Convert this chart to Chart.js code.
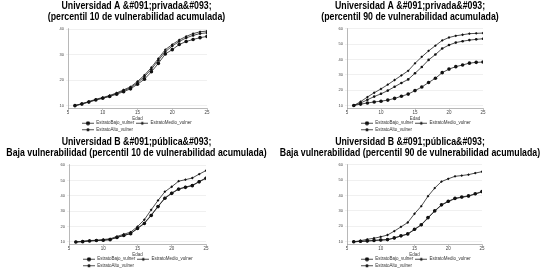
<!DOCTYPE html>
<html>
<head>
<meta charset="utf-8">
<script src="https://cdn.jsdelivr.net/npm/chart.js"></script>
<style>
body { margin: 0; background: #fff; }
#grid { display: grid; grid-template-columns: 273px 274px; grid-template-rows: 136px 136px; width: 547px; height: 272px; }
canvas { display: block; }
</style>
</head>
<body>
<div id="grid">
	<canvas id="c1" width="273" height="136"></canvas>
	<canvas id="c2" width="274" height="136"></canvas>
	<canvas id="c3" width="273" height="136"></canvas>
	<canvas id="c4" width="274" height="136"></canvas>
</div>
<script>
var edad = [6, 7, 8, 9, 10, 11, 12, 13, 14, 15, 16, 17, 18, 19, 20, 21, 22, 23, 24, 25];
var nombres = ["EstratoBajo_vulner", "EstratoMedio_vulner", "EstratoAlto_vulner"];
var xTicks = [5, 10, 15, 20, 25];

// Universidad A, percentil 10
var titulo1 = ["Universidad A &#091;privada&#093;", "(percentil 10 de vulnerabilidad acumulada)"];
var yTicks1 = [10, 20, 30, 40];
var bajo1  = [10, 10.6, 11.4, 12.2, 12.9, 13.6, 14.5, 15.5, 16.6, 18.4, 20.4, 23.3, 26.6, 30.3, 32.0, 34.0, 35.2, 36.0, 36.7, 37.2];
var medio1 = [10, 10.8, 11.6, 12.5, 13.2, 14.0, 15.0, 16.2, 17.4, 19.5, 22.0, 25.0, 28.5, 32.0, 34.0, 35.8, 37.2, 38.3, 39.0, 39.3];
var alto1  = [10, 10.7, 11.5, 12.3, 13.0, 13.8, 14.8, 15.9, 17.0, 19.0, 21.4, 24.3, 27.8, 31.2, 33.4, 35.2, 36.6, 37.6, 38.3, 38.6];

// Universidad A, percentil 90
var titulo2 = ["Universidad A &#091;privada&#093;", "(percentil 90 de vulnerabilidad acumulada)"];
var yTicks2 = [10, 20, 30, 40, 50, 60];
var bajo2  = [10, 10.9, 11.6, 12.3, 12.8, 13.5, 14.6, 16.0, 17.4, 19.7, 22.0, 25.0, 27.7, 31.4, 33.7, 35.3, 36.4, 37.6, 38.1, 38.3];
var medio2 = [10, 12.5, 15.5, 18.3, 20.8, 23.6, 26.6, 29.6, 32.6, 37.5, 41.7, 45.6, 49.0, 52.4, 54.3, 55.4, 56.1, 56.8, 57.0, 57.2];
var alto2  = [10, 11.6, 13.7, 15.8, 17.6, 19.7, 22.2, 24.7, 27.0, 31.0, 35.1, 39.7, 43.2, 47.1, 49.4, 51.0, 51.9, 52.6, 53.1, 53.5];

// Universidad B, percentil 10
var titulo3 = ["Universidad B &#091;pública&#093;", "Baja vulnerabilidad (percentil 10 de vulnerabilidad acumulada)"];
var yTicks3 = [10, 20, 30, 40, 50, 60];
var bajo3  = [10, 10.2, 10.6, 10.9, 11.1, 11.5, 12.9, 14.2, 15.4, 18.7, 22.0, 27.2, 33.0, 38.4, 41.6, 44.3, 45.5, 46.6, 49.1, 51.4];
var medio3 = [10, 10.5, 10.9, 11.1, 11.6, 12.0, 13.6, 15.0, 16.4, 20.0, 24.5, 30.9, 37.0, 42.7, 45.9, 49.5, 50.5, 51.6, 54.1, 56.4];
var alto3  = [10, 10.2, 10.7, 10.9, 11.1, 11.6, 13.0, 14.3, 15.5, 18.9, 22.3, 27.5, 33.2, 38.6, 41.8, 44.5, 45.7, 46.8, 49.3, 51.6];

// Universidad B, percentil 90
var titulo4 = ["Universidad B &#091;pública&#093;", "Baja vulnerabilidad (percentil 90 de vulnerabilidad acumulada)"];
var yTicks4 = [10, 20, 30, 40, 50, 60];
var bajo4  = [10, 10.3, 10.6, 10.9, 11.2, 11.4, 12.5, 13.9, 15.1, 18.1, 21.1, 25.7, 30.1, 34.0, 36.3, 38.2, 39.1, 39.8, 41.2, 42.6];
var medio4 = [10, 10.7, 11.6, 12.3, 13.2, 14.4, 16.9, 19.7, 22.5, 28.2, 33.1, 39.6, 44.9, 49.1, 50.9, 52.5, 53.0, 53.6, 54.6, 55.5];
var alto4  = [10, 10.2, 10.4, 10.8, 11.1, 11.3, 12.4, 13.7, 15.0, 17.9, 20.9, 25.4, 29.9, 33.8, 36.1, 38.0, 38.9, 39.6, 41.0, 42.4];

var marcas = [
	{ style: 'circle', radius: 1.8 },
	{ style: 'rectRot', radius: 1.4 },
	{ style: 'circle', radius: 1.3 }
];

// little line+marker icons for the legend
function legend_icon(m){
	var c = document.createElement('canvas');
	c.width = 12; c.height = 5;
	var ctx = c.getContext('2d');
	ctx.strokeStyle = '#222';
	ctx.lineWidth = 0.8;
	ctx.beginPath(); ctx.moveTo(0, 2.5); ctx.lineTo(12, 2.5); ctx.stroke();
	ctx.fillStyle = '#111';
	Chart.helpers.drawPoint(ctx, { pointStyle: m.style, radius: m.radius + 0.3, borderWidth: 0 }, 6, 2.5);
	return c;
}

// moves the legend a bit and squeezes the title horizontally (narrow font look)
var ajustes = {
	id: 'ajustes',
	afterLayout: function(chart, args, opts){
		var lg = chart.legend;
		if (lg) {
			lg.left += opts.dx || 0;
			lg.right += opts.dx || 0;
			lg.top += opts.dy || 0;
			lg.bottom += opts.dy || 0;
		}
	},
	beforeDraw: function(chart, args, opts){
		var tb = chart.titleBlock;
		if (!tb || tb._estrecho) { return; }
		var drawOrig = tb.draw;
		tb.draw = function(){
			var ctx = this.ctx, l = this.left, r = this.right;
			var cx = (l + r) / 2, half = (r - l) / 2 / opts.k;
			// widen the box so fillText's maxWidth does not squash the long line
			this.left = cx - half; this.right = cx + half;
			ctx.save();
			ctx.translate(cx, 0);
			ctx.scale(opts.k, 1);
			ctx.translate(-cx, 0);
			drawOrig.apply(this, arguments);
			ctx.restore();
			this.left = l; this.right = r;
		};
		tb._estrecho = true;
	}
};

function init_panel(id, titulo, series, yTicks, ymin, ymax, izq, der){

	var iconos = marcas.map(legend_icon);

	var datasets = series.map(function(s, i){
		return {
			label: nombres[i],
			data: edad.map(function(e, j){ return { x: e, y: s[j] }; }),
			borderColor: '#222',
			borderWidth: 0.8,
			pointStyle: marcas[i].style,
			pointRadius: marcas[i].radius,
			pointBackgroundColor: '#111',
			pointBorderWidth: 0,
			tension: 0
		};
	});

	var settings = {
		type: 'line',
		data: { datasets: datasets },
		plugins: [ajustes],
		options: {
			responsive: false,
			animation: false,
			layout: { padding: { top: 0, bottom: -8, left: 0, right: 0 } },
			scales: {
				x: {
					type: 'linear',
					min: 5, max: 25,
					afterBuildTicks: function(ax){ ax.ticks = xTicks.map(function(v){ return { value: v }; }); },
					ticks: { font: { size: 4.5, family: 'Liberation Sans' }, color: '#444', padding: 0, maxRotation: 0 },
					grid: { display: true, drawOnChartArea: false, tickLength: 1.5, color: '#888', lineWidth: 0.5 },
					border: { color: '#888', width: 0.6 },
					title: { display: true, text: 'Edad', font: { size: 4.5, family: 'Liberation Sans' }, color: '#444', padding: 0 }
				},
				y: {
					min: ymin, max: ymax,
					afterBuildTicks: function(ax){ ax.ticks = yTicks.map(function(v){ return { value: v }; }); },
					afterFit: function(ax){ ax.width = izq; },
					ticks: { font: { size: 4, family: 'Liberation Sans' }, color: '#444', padding: 2 },
					grid: { color: '#e6e6e6', lineWidth: 0.6, tickLength: 2 },
					border: { color: '#888', width: 0.6 }
				},
				relleno: {
					position: 'right',
					afterFit: function(ax){ ax.width = der; },
					ticks: { display: false },
					grid: { display: false },
					border: { display: false }
				}
			},
			plugins: {
				title: {
					display: true,
					text: titulo,
					color: '#000',
					font: { size: 10, weight: 'bold', family: 'Liberation Sans', lineHeight: 1.05 },
					padding: { top: 1, bottom: 6 }
				},
				legend: {
					position: 'bottom',
					align: 'start',
					fullSize: false,
					labels: {
						font: { size: 4.5, family: 'Liberation Sans' },
						color: '#333',
						usePointStyle: true,
						pointStyleWidth: 12,
						padding: 2,
						generateLabels: function(chart){
							var items = Chart.defaults.plugins.legend.labels.generateLabels(chart);
							items.forEach(function(it, i){ it.pointStyle = iconos[i]; });
							return items;
						}
					}
				},
				ajustes: { dx: 12, dy: -2, k: 0.877 },
				tooltip: { enabled: false }
			}
		}
	};

	return new Chart(document.getElementById(id), settings);
}

init_panel('c1', titulo1, [bajo1, medio1, alto1], yTicks1, 8.8, 40.5, 68, 66);
init_panel('c2', titulo2, [bajo2, medio2, alto2], yTicks2, 7.9, 60.5, 74, 64);
init_panel('c3', titulo3, [bajo3, medio3, alto3], yTicks3, 8.2, 60.7, 69, 67);
init_panel('c4', titulo4, [bajo4, medio4, alto4], yTicks4, 8.1, 60.5, 74, 65);
</script>
</body>
</html>
